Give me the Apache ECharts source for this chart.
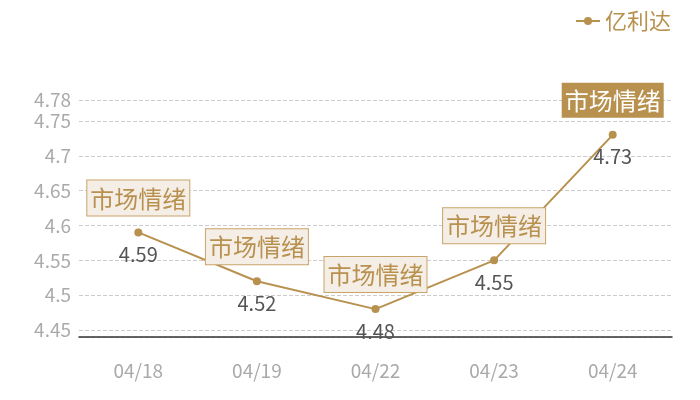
<!DOCTYPE html>
<html>
<head>
<meta charset="utf-8">
<script src="https://cdn.jsdelivr.net/npm/echarts@6/dist/echarts.min.js"></script>
<style>
  html, body { margin: 0; padding: 0; background: #fff; }
  #container { width: 700px; height: 400px; }
</style>
</head>
<body>
<div id="container"></div>
<script>
var dates = ['04/18', '04/19', '04/22', '04/23', '04/24'];
var prices = [4.59, 4.52, 4.48, 4.55, 4.73];
var seriesName = '亿利达';
var tagText = '市场情绪';

var gold = '#b8914f';
var font = '"Noto Sans CJK SC", "Noto Sans", sans-serif';

// 每个点上方的标签框, 最后一个是实心的
var tags = [];
for (var i = 0; i < dates.length; i++) {
    var last = (i == dates.length - 1);
    tags.push({
        coord: [dates[i], prices[i]],
        label: {
            color: last ? '#fff' : gold,
            backgroundColor: last ? gold : '#f4eee6',
            borderColor: last ? gold : '#c9a46a',
            borderWidth: last ? 0 : 1
        }
    });
}

var dom = document.getElementById('container');
var myChart = echarts.init(dom);

var option = {
    textStyle: { fontFamily: font },
    legend: {
        data: [seriesName],
        right: 24,
        top: 5,
        itemWidth: 24,
        itemHeight: 10,
        itemGap: 6,
        textStyle: { color: gold, fontSize: 22, fontFamily: font }
    },
    grid: { left: 79, right: 28, top: 100, bottom: 63 },
    xAxis: {
        type: 'category',
        data: dates,
        axisLine: { lineStyle: { color: '#333', width: 1.5 } },
        axisTick: { show: false },
        axisLabel: { color: '#aaa', fontSize: 19, margin: 24, fontFamily: font }
    },
    yAxis: {
        type: 'value',
        min: 4.44,
        max: 4.78,
        splitNumber: 5,
        axisLine: { show: false },
        axisTick: { show: false },
        axisLabel: { color: '#aaa', fontSize: 19, margin: 8, showMinLabel: false, fontFamily: font },
        splitLine: { lineStyle: { color: '#ccc', type: 'dashed' } }
    },
    series: [{
        name: seriesName,
        type: 'line',
        data: prices,
        symbol: 'circle',
        symbolSize: 8,
        color: gold,
        lineStyle: { color: gold, width: 2 },
        label: {
            show: true,
            position: 'bottom',
            distance: 8,
            color: '#555',
            fontSize: 20,
            fontFamily: font
        },
        markPoint: {
            symbol: 'circle',
            symbolSize: 0,
            label: {
                show: true,
                formatter: tagText,
                position: 'top',
                distance: 17,
                fontSize: 24,
                lineHeight: 24,
                fontFamily: font,
                padding: [6, 3, 5, 3]
            },
            data: tags
        }
    }]
};

myChart.setOption(option, true);
</script>
</body>
</html>
